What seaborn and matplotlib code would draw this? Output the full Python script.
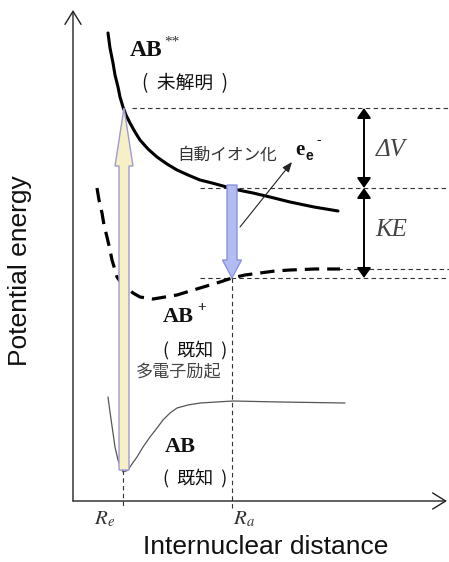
import matplotlib
matplotlib.use("Agg")
import matplotlib.pyplot as plt
import seaborn as sns

# units: r = internuclear distance, E = potential energy (arbitrary)
ab_ss_r = [35, 37, 40, 42, 45, 47, 50, 53, 57, 62, 67, 75, 84, 94, 104, 115, 127, 139, 150, 165, 180, 197, 217, 241, 265]
ab_ss_E = [468, 453, 438, 426, 414, 404, 394, 386, 378, 369, 361, 352, 344, 337, 331, 326, 321, 318, 315, 311, 308, 304, 299, 294, 290]

ab_ion_r = [24, 26, 29, 31, 34, 37, 39, 42, 44, 49, 54, 60, 67, 80, 92, 104, 117, 127, 137, 147, 159, 172, 187, 202, 217, 242, 267]
ab_ion_E = [313, 301, 288, 276, 264, 251, 241, 231, 224, 217, 213, 208, 204, 202, 204, 206, 210, 213, 216, 219, 223, 226, 228, 230, 231, 232, 232]

ab_gs_r = [35, 37, 40, 42, 45, 48, 50, 53, 55, 59, 64, 70, 77, 84, 90, 97, 104, 115, 127, 160, 207, 272]
ab_gs_E = [104, 89, 68, 54, 41, 33, 29, 30, 31, 37, 44, 54, 64, 73, 81, 88, 93, 96, 98, 100, 99, 98]

R_e, R_a = 50, 159
E_exc, E_auto, E_fin, E_ion = 393, 313, 223, 232
E_gs_min = 31

sns.set_theme(style="white")
plt.rcParams["font.family"] = ["Noto Sans CJK JP", "DejaVu Sans"]
plt.rcParams["mathtext.fontset"] = "stix"

fig = plt.figure(figsize=(4.49, 5.62), dpi=100)
ax = fig.add_axes([0, 0, 1, 1])
ax.set_xlim(-73, 376)
ax.set_ylim(-61, 501)
ax.axis("off")

# axes with open arrowheads
for tip in [(0, 491), (374, 0)]:
    ax.annotate("", xy=tip, xytext=(0, 0),
                arrowprops=dict(arrowstyle="->,head_length=0.47,head_width=0.29", lw=1.0, color="#222",
                                mutation_scale=20, shrinkA=0, shrinkB=0))

# guide lines
thin = dict(color="#333", lw=0.8, linestyle=(0, (4, 3)))
ax.plot([59, 376], [E_exc, E_exc], **thin)
ax.plot([127, 376], [E_auto, E_auto], **thin)
ax.plot([265, 376], [E_ion, E_ion], **thin)
ax.plot([127, 376], [E_fin, E_fin], **thin)
ax.plot([R_e, R_e], [E_gs_min, -8], **thin)
ax.plot([R_a, R_a], [E_fin, -8], **thin)

# potential curves
sns.lineplot(x=ab_gs_r, y=ab_gs_E, sort=False, estimator=None, color="#555", lw=0.9, ax=ax)
sns.lineplot(x=ab_ion_r, y=ab_ion_E, sort=False, estimator=None, color="black", lw=2.3,
             linestyle=(0, (4.5, 2.5)), ax=ax)
sns.lineplot(x=ab_ss_r, y=ab_ss_E, sort=False, estimator=None, color="black", lw=2.2, ax=ax)

# excitation and autoionisation arrows
ax.arrow(R_e + 1, E_gs_min, 0, E_exc - E_gs_min, width=10, head_width=18, head_length=58,
         length_includes_head=True, fc="#f7efc6", ec="#9b9bd6", lw=1, zorder=3)
ax.arrow(R_a, E_auto + 3, 0, E_fin - E_auto - 3, width=10, head_width=19, head_length=18,
         length_includes_head=True, fc="#b3bcf2", ec="#8a93dc", lw=1, zorder=3)
ax.annotate("", xy=(219, 339), xytext=(167, 274),
            arrowprops=dict(arrowstyle="-|>,head_length=0.5,head_width=0.2", lw=0.8, color="#222",
                            mutation_scale=12, shrinkA=0, shrinkB=0))

# energy difference arrows
for lo, hi in [(E_auto, E_exc), (E_fin, E_auto)]:
    ax.annotate("", xy=(291, hi), xytext=(291, lo),
                arrowprops=dict(arrowstyle="<|-|>,head_length=0.5,head_width=0.35", lw=1.4, color="black",
                                mutation_scale=12, shrinkA=0, shrinkB=0))

serif_b = dict(family="Liberation Serif", fontweight="bold", color="#111")
ax.text(57, 450, "AB", fontsize=17, va="center", ha="left", **serif_b)
ax.text(91, 459, "**", fontsize=11, va="center", ha="left", family="Liberation Serif", color="#333")
ax.text(90, 184, "AB", fontsize=16, va="center", ha="left", **serif_b)
ax.text(124, 193, "+", fontsize=11, va="center", ha="left", **serif_b)
ax.text(92, 54, "AB", fontsize=16, va="center", ha="left", **serif_b)

ax.text(112, 417, "(  未解明  )", fontsize=13.5, ha="center", va="center", color="#111")
ax.text(122, 151, "(  既知  )", fontsize=13, ha="center", va="center", color="#111")
ax.text(122, 23, "(  既知  )", fontsize=13, ha="center", va="center", color="#111")
ax.text(154, 346, "自動イオン化", fontsize=12, ha="center", va="center", color="#333")
ax.text(106, 129, "多電子励起", fontsize=12.3, ha="center", va="center", color="#444")

# e_e^- label
ax.text(222, 351, "e", fontsize=15, ha="left", va="center", **serif_b)
ax.text(232, 345, "e", fontsize=10, ha="left", va="center", family="Liberation Sans",
        fontweight="bold", color="#111")
ax.text(243, 361, "-", fontsize=10, ha="left", va="center", family="Liberation Sans", color="#111")

ax.text(318, 351, "ΔV", fontsize=18, ha="center", va="center", color="#444",
        family="Liberation Serif", style="italic")
ax.text(318, 271, "KE", fontsize=18, ha="center", va="center", color="#444",
        family="Liberation Serif", style="italic")
ax.text(32, -17, r"$R_e$", fontsize=15, ha="center", va="center", color="#333")
ax.text(171, -17, r"$R_a$", fontsize=15, ha="center", va="center", color="#333")

ax.text(193, -46, "Internuclear distance", fontsize=19, ha="center", va="center",
        family="Liberation Sans", color="#111")
ax.text(-53, 230, "Potential energy", fontsize=19, ha="center", va="center", rotation=90,
        family="Liberation Sans", color="#111")

fig.savefig("out.png", dpi=100)
